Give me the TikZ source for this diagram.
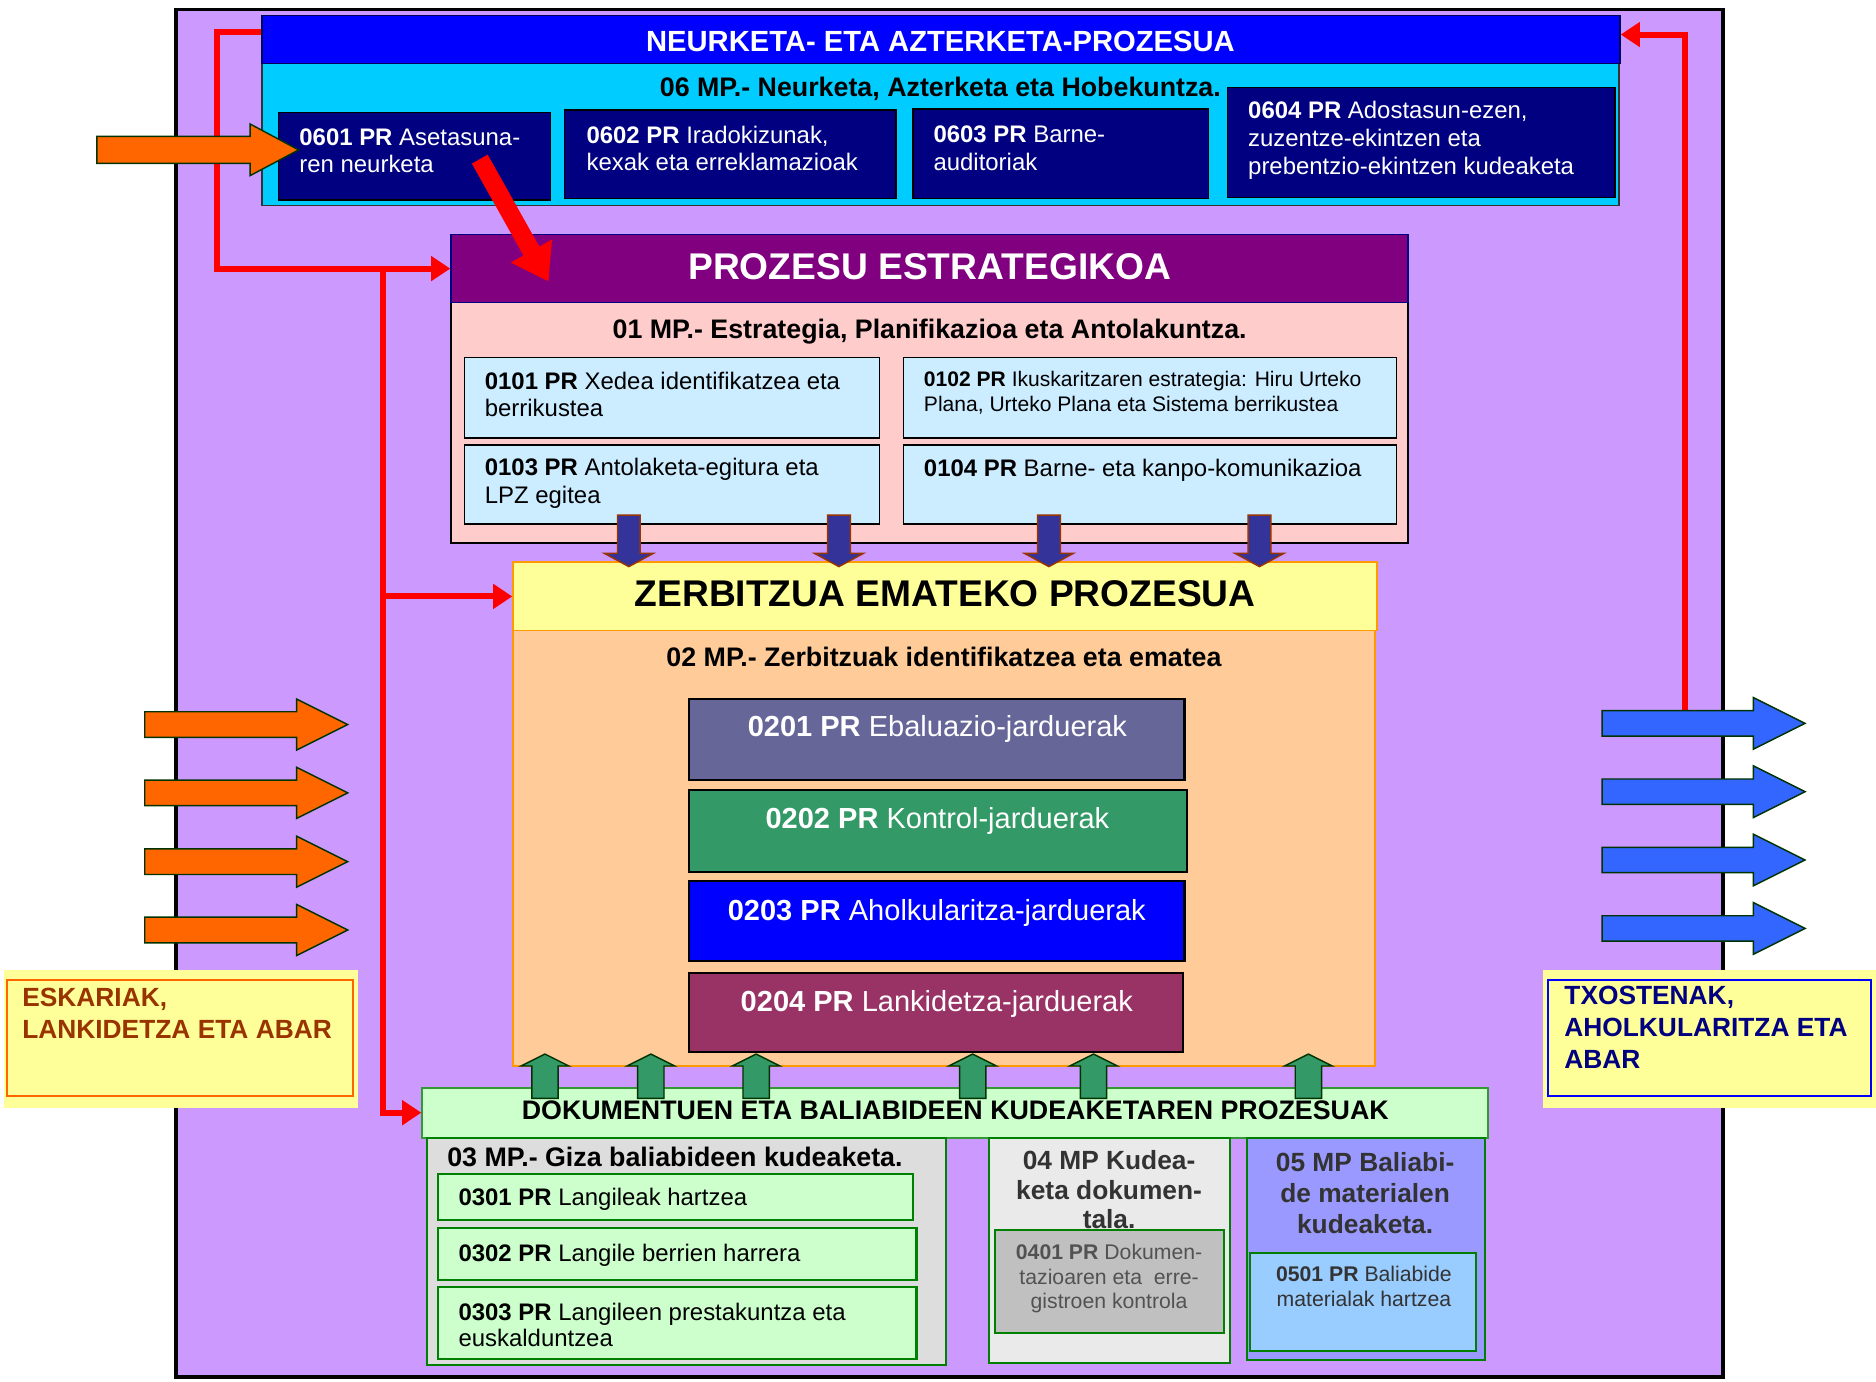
\documentclass[tikz,border=0pt]{standalone}
\usepackage{fontspec}
\setmainfont{Liberation Sans}
\usepackage{tikz}
\usetikzlibrary{arrows.meta,fit,calc}

\definecolor{bgLilac}{HTML}{CC99FF}
\definecolor{hdrBlue}{HTML}{0000FF}
\definecolor{msCyan}{HTML}{00CCFF}
\definecolor{msNavy}{HTML}{000080}
\definecolor{strPurple}{HTML}{800080}
\definecolor{strPink}{HTML}{FFCCCC}
\definecolor{strSky}{HTML}{CCECFF}
\definecolor{zerYellow}{HTML}{FFFF99}
\definecolor{zerPeach}{HTML}{FFCC99}
\definecolor{zerEdge}{HTML}{FF9900}
\definecolor{prSlate}{HTML}{666699}
\definecolor{prGreen}{HTML}{339966}
\definecolor{prBlue}{HTML}{0000FF}
\definecolor{prWine}{HTML}{993366}
\definecolor{dokMint}{HTML}{CCFFCC}
\definecolor{dokEdge}{HTML}{339933}
\definecolor{dokDark}{HTML}{008000}
\definecolor{hrGray}{HTML}{DDDDDD}
\definecolor{docGray}{HTML}{EAEAEA}
\definecolor{docMid}{HTML}{C0C0C0}
\definecolor{matViolet}{HTML}{9999FF}
\definecolor{matSky}{HTML}{99CCFF}
\definecolor{txtGray}{HTML}{333333}
\definecolor{inOrange}{HTML}{FF6600}
\definecolor{inBrown}{HTML}{993300}
\definecolor{outBlue}{HTML}{3366FF}
\definecolor{arrEdge}{HTML}{003300}
\definecolor{dnNavy}{HTML}{333399}
\definecolor{dnEdge}{HTML}{993300}

\newcommand{\fHead}{\fontsize{18.3}{21}\selectfont\bfseries}
\newcommand{\fTitle}{\fontsize{23.3}{27}\selectfont\bfseries}
\newcommand{\fSub}{\fontsize{16.8}{19}\selectfont\bfseries}
\newcommand{\fBody}{\fontsize{15}{17.3}\selectfont}
\newcommand{\fSmall}{\fontsize{13.2}{15.7}\selectfont}
\newcommand{\fProc}{\fontsize{18.2}{21}\selectfont}

\begin{document}
\begin{tikzpicture}[x=0.75pt,y=0.75pt,yscale=-1,xscale=1,
    box/.style={draw=#1, line width=0.9pt, inner sep=0pt},
    txt/.style={inner sep=0pt, anchor=base west, align=left},
    ctxt/.style={inner sep=0pt, anchor=base, align=center},
    redline/.style={draw=red, line width=3.75pt},
    redarrow/.style={redline, -{Triangle[length=12pt,width=15pt]}},
    blockarr/.style={draw=#1, line width=0.9pt, line join=miter}]
\useasboundingbox (0,0) rectangle (1568,1155);

%Shape: Rectangle - outer frame
\node[box=black, line width=2.3pt, fill=bgLilac, fit={(147,8) (1440,1151)}] (frame) {};

%Shape: Rectangle - measurement block
\node[box=black!80, fill=msCyan, fit={(219,53) (1353,172)}] (c06) {};
\node[box=msNavy!70!black, fill=hdrBlue, fit={(219,13) (1354,53)}] (h06) {};
\node[box=black, fill=msNavy, fit={(233,94) (460,167)}] (p0601) {};
\node[box=black, fill=msNavy, fit={(472,92) (749,166)}] (p0602) {};
\node[box=black, fill=msNavy, fit={(763,91) (1010,166)}] (p0603) {};
\node[box=black, fill=msNavy, fit={(1026,73) (1350,165)}] (p0604) {};

%Shape: Rectangle - strategic block
\node[box=black, fill=strPink, fit={(377,253) (1177,454)}] (strb) {};
\node[box=msNavy, fill=strPurple, fit={(377,196) (1177,253)}] (strh) {};
\node[box=black, fill=strSky, fit={(388,299) (735,366)}] (p0101) {};
\node[box=black, fill=strSky, fit={(755,299) (1167,366)}] (p0102) {};
\node[box=black, fill=strSky, fit={(388,372) (735,438)}] (p0103) {};
\node[box=black, fill=strSky, fit={(755,372) (1167,438)}] (p0104) {};

%Shape: Rectangle - service block
\node[box=zerEdge, line width=1.2pt, fill=zerPeach, fit={(429,527) (1149,891)}] (zerb) {};
\node[box=zerEdge, line width=1.2pt, fill=zerYellow, fit={(429,470) (1151,527)}] (zerh) {};
\node[box=black, line width=1.3pt, fill=prSlate, fit={(576,584) (990,652)}] (p0201) {};
\node[box=black, line width=1.3pt, fill=prGreen, fit={(576,660) (992,729)}] (p0202) {};
\node[box=black, line width=1.3pt, fill=prBlue, fit={(576,736) (990,803)}] (p0203) {};
\node[box=black, line width=1.3pt, fill=prWine, fit={(576,813) (989,879)}] (p0204) {};

%Shape: Rectangle - support block
\node[box=dokEdge, line width=1.2pt, fill=dokMint, fit={(353,909) (1244,951)}] (dokh) {};
\node[box=dokDark, line width=1.2pt, fill=hrGray, fit={(357,951) (791,1141)}] (hr03) {};
\node[box=dokDark, line width=1.3pt, fill=dokMint, fit={(366,981) (763,1020)}] (p0301) {};
\node[box=dokDark, line width=1.3pt, fill=dokMint, fit={(366,1026) (766,1070)}] (p0302) {};
\node[box=dokDark, line width=1.3pt, fill=dokMint, fit={(366,1076) (766,1136)}] (p0303) {};
\node[box=dokDark, line width=1.2pt, fill=docGray, fit={(827,951) (1028,1139)}] (doc04) {};
% Text Node
\node[ctxt, font=\fontsize{16.5}{18.3}\selectfont\bfseries, text=txtGray] (t04) at (927,1026.6) {04 MP Kudea-\\keta dokumen-\\tala.};
\node[box=dokDark, line width=1.3pt, fill=docMid, fit={(832,1028) (1023,1114)}] (p0401) {};
\node[box=dokDark, line width=1.2pt, fill=matViolet, fit={(1042,951) (1241,1137)}] (mat05) {};
\node[box=dokDark, line width=1.3pt, fill=matSky, fit={(1045,1047) (1234,1129)}] (p0501) {};

%Shape: Rectangle - inputs and outputs
\node[inner sep=0pt, fill=zerYellow, fit={(3,811) (299,926)}] (eskb) {};
\node[box=inOrange, line width=1.5pt, fit={(6,819) (295,916)}] (eskf) {};
\node[inner sep=0pt, fill=zerYellow, fit={(1290,811) (1568,926)}] (txob) {};
\node[box=hdrBlue, line width=1.5pt, fit={(1294,819) (1564,916)}] (txof) {};

%Straight Lines - red feedback
\coordinate (redA) at (181,0);
\coordinate (redB) at (320,0);
\coordinate (redC) at (1408,594);
\draw[redarrow] ($(h06.north west)!0.35!(h06.south west)$) -| (redA |- strh.west) -- (strh.west);
\draw[redarrow] (redB |- strh.west) |- (zerh.west);
\draw[redarrow] (redB |- strh.west) |- (dokh.west);
\draw[redarrow] (redC) |- ($(h06.north east)!0.4!(h06.south east)$);

%Block arrows - in and out
\draw[blockarr=arrEdge, fill=inOrange] (81,114) -- (209,114) -- (209,103.6) -- (249.6,125.3) -- (209,146.8) -- (209,136.5) -- (81,136.5) -- cycle;
\foreach \yy in {605.6,662.7,720.2,777.3}{
  \draw[blockarr=arrEdge, fill=inOrange] (121,\yy-10.7) -- (248,\yy-10.7) -- (248,\yy-21.3) -- (290.6,\yy) -- (248,\yy+21.3) -- (248,\yy+10.7) -- (121,\yy+10.7) -- cycle;
}
\foreach \yy in {604.6,661.7,718.8,776}{
  \draw[blockarr=arrEdge, fill=outBlue] (1339,\yy-10.6) -- (1465.5,\yy-10.6) -- (1465.5,\yy-21.6) -- (1508.7,\yy) -- (1465.5,\yy+21.6) -- (1465.5,\yy+10.6) -- (1339,\yy+10.6) -- cycle;
}
\foreach \xx in {525.6,701.2,876.7,1052.7}{
  \draw[blockarr=dnEdge, fill=dnNavy] (\xx-9.5,430.5) -- (\xx+9.5,430.5) -- (\xx+9.5,462.5) -- (\xx+20.5,462.5) -- (\xx,473.6) -- (\xx-20.5,462.5) -- (\xx-9.5,462.5) -- cycle;
}
\foreach \xx in {455.5,544,632,813,914,1093.6}{
  \draw[blockarr=arrEdge, fill=prGreen] (\xx-11,918) -- (\xx-11,891) -- (\xx-20,891) -- (\xx,881) -- (\xx+20,891) -- (\xx+11,891) -- (\xx+11,918) -- cycle;
}

%Straight Lines - red big arrow
\coordinate (rdS) at (401,133);
\coordinate (rdE) at (458.5,235.4);
\draw[red, line width=11.4pt, -{Triangle[length=22pt,width=28pt]}] (rdS) -- (rdE);

% Text Node
\node[inner sep=0pt, font=\fHead, text=white] (t06h) at (786,35) {NEURKETA- ETA AZTERKETA-PROZESUA};
% Text Node
\node[ctxt, font=\fSub] (t06) at (786,80.8) {06 MP.- Neurketa, Azterketa eta Hobekuntza.};
% Text Node
\node[txt, font=\fBody, text=white] (t0601) at (250,144.3) {\textbf{0601 PR} Asetasuna-\\ren neurketa};
% Text Node
\node[txt, font=\fBody, text=white] (t0602) at (490,142.8) {\textbf{0602 PR} Iradokizunak,\\kexak eta erreklamazioak};
% Text Node
\node[txt, font=\fBody, text=white] (t0603) at (780,142.3) {\textbf{0603 PR} Barne-\\auditoriak};
% Text Node
\node[txt, font=\fBody, text=white] (t0604) at (1043,145.5) {\textbf{0604 PR} Adostasun-ezen,\\zuzentze-ekintzen eta\\prebentzio-ekintzen kudeaketa};
% Text Node
\node[ctxt, font=\fTitle, text=white] (tstr) at (777,234) {PROZESU ESTRATEGIKOA};
% Text Node
\node[ctxt, font=\fSub] (t01) at (777,282.8) {01 MP.- Estrategia, Planifikazioa eta Antolakuntza.};
% Text Node
\node[txt, font=\fBody] (t0101) at (405,348.3) {\textbf{0101 PR} Xedea identifikatzea eta\\berrikustea};
% Text Node
\node[txt, font=\fSmall] (t0102) at (772,344.1) {\textbf{0102 PR} Ikuskaritzaren estrategia: Hiru Urteko\\Plana, Urteko Plana eta Sistema berrikustea};
% Text Node
\node[txt, font=\fBody] (t0103) at (405,420.7) {\textbf{0103 PR} Antolaketa-egitura eta\\LPZ egitea};
% Text Node
\node[txt, font=\fBody] (t0104) at (772,398.4) {\textbf{0104 PR} Barne- eta kanpo-komunikazioa};
% Text Node
\node[ctxt, font=\fTitle] (tzer) at (790,507) {ZERBITZUA EMATEKO PROZESUA};
% Text Node
\node[ctxt, font=\fSub] (t02) at (789,556.7) {02 MP.- Zerbitzuak identifikatzea eta ematea};
% Text Node
\node[ctxt, font=\fProc, text=white] (t0201) at (783.5,615.7) {\textbf{0201 PR} Ebaluazio-jarduerak};
\node[ctxt, font=\fProc, text=white] (t0202) at (783.5,692.3) {\textbf{0202 PR} Kontrol-jarduerak};
\node[ctxt, font=\fProc, text=white] (t0203) at (783,769) {\textbf{0203 PR} Aholkularitza-jarduerak};
\node[ctxt, font=\fProc, text=white] (t0204) at (783,845.6) {\textbf{0204 PR} Lankidetza-jarduerak};
% Text Node
\node[ctxt, font=\fSub] (tdok) at (798.5,936) {DOKUMENTUEN ETA BALIABIDEEN KUDEAKETAREN PROZESUAK};
% Text Node
\node[txt, font=\fSub] (t03) at (373.6,975) {03 MP.- Giza baliabideen kudeaketa.};
\node[txt, font=\fBody] (t0301) at (383,1007.2) {\textbf{0301 PR} Langileak hartzea};
\node[txt, font=\fBody] (t0302) at (383,1054.5) {\textbf{0302 PR} Langile berrien harrera};
\node[txt, font=\fontsize{15}{16.7}\selectfont] (t0303) at (383,1125.6) {\textbf{0303 PR} Langileen prestakuntza eta\\euskalduntzea};
% Text Node
\node[ctxt, font=\fontsize{13.3}{15.2}\selectfont, text=txtGray!85!white] (t0401) at (927,1093.5) {\textbf{0401 PR} Dokumen-\\tazioaren eta~ erre-\\gistroen kontrola};
% Text Node
\node[ctxt, font=\fontsize{16.5}{19.3}\selectfont\bfseries, text=txtGray] (t05) at (1141,1030.9) {05 MP Baliabi-\\de materialen\\kudeaketa.};
\node[ctxt, font=\fontsize{13.3}{15.7}\selectfont, text=txtGray] (t0501) at (1140,1092.2) {\textbf{0501 PR} Baliabide\\materialak hartzea};
% Text Node
\node[txt, font=\fontsize{16.5}{19.9}\selectfont\bfseries, text=inBrown] (tesk) at (18.4,867.9) {ESKARIAK,\\LANKIDETZA ETA ABAR};
\node[txt, font=\fontsize{16.5}{19.9}\selectfont\bfseries, text=msNavy] (ttxo) at (1307.3,893) {TXOSTENAK,\\AHOLKULARITZA ETA\\ABAR};

\end{tikzpicture}
\end{document}
